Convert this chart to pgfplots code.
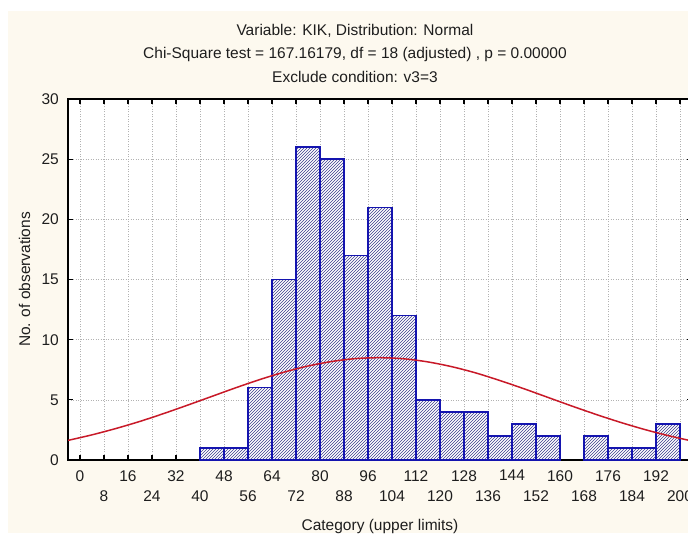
\documentclass[border=0pt]{standalone}
\usepackage{fontspec}
\setmainfont{Liberation Sans}
\usepackage{pgfplots}
\pgfplotsset{compat=1.18}
\usetikzlibrary{patterns}

\definecolor{panel}{RGB}{253,249,239}
\definecolor{barblue}{RGB}{20,20,175}
\definecolor{hatch}{RGB}{60,60,140}
\definecolor{fitred}{RGB}{200,25,40}
\definecolor{txt}{RGB}{30,30,30}

% grid behind the bars, ticks and frame in front of them
\pgfplotsset{
  layers/histo/.define layer set={axis background,axis grid,main,axis ticks,axis lines,axis tick labels,axis descriptions,axis foreground}{},
}

\begin{document}
\begin{tikzpicture}[x=1pt,y=1pt,font=\fontsize{15.5}{18}\selectfont]
\fill[white] (0,0) rectangle (688,533);
\fill[panel] (8,0) rectangle (688,522);

\node[anchor=base, text=txt] at (355,497) {Variable: KIK, Distribution: Normal};
\node[anchor=base, text=txt] at (355,474) {Chi-Square test = 167.16179, df = 18 (adjusted) , p = 0.00000};
\node[anchor=base, text=txt] at (355,450) {Exclude condition: v3=3};

\begin{axis}[
  set layers=histo,
  scale only axis, width=624pt, height=361pt,
  at={(68pt,73pt)}, anchor=south west,
  xmin=-4, xmax=204, ymin=0, ymax=30,
  axis background/.style={fill=white},
  xtick={0,16,...,192},
  extra x ticks={8,24,...,200},
  extra x tick style={xticklabel style={yshift=-20pt}},
  ytick={0,5,...,30},
  grid=major,
  major grid style={gray!60, line width=0.5pt, dash pattern=on 1pt off 1.5pt},
  tick align=inside,
  major tick length=5pt,
  tick style={black, line width=1.3pt},
  axis line style={black, line width=1.6pt},
  /pgf/number format/assume math mode=true,
  xticklabel style={anchor=north, inner sep=0pt, yshift=-10pt, text=txt},
  yticklabel style={anchor=east, inner sep=0pt, xshift=-9pt, text=txt},
  xlabel={Category (upper limits)},
  ylabel={No. of observations},
  xlabel style={at={(axis description cs:0.5,-0.1965)}, anchor=base, text=txt},
  ylabel style={at={(axis description cs:-0.0609,0.5)}, anchor=base, text=txt},
]

% observed frequencies, class intervals of width 8 (upper limits on the axis)
\addplot[ybar interval, draw=barblue, line width=1.4pt, fill=white,
  postaction={pattern=north east lines, pattern color=hatch}]
  coordinates {(40,1) (48,1) (56,6) (64,15) (72,26) (80,25) (88,17) (96,21)
               (104,12) (112,5) (120,4) (128,4) (136,2) (144,3) (152,2) (160,0)};
\addplot[ybar interval, draw=barblue, line width=1.4pt, fill=white,
  postaction={pattern=north east lines, pattern color=hatch}]
  coordinates {(168,2) (176,1) (184,1) (192,3) (200,0)};

% expected normal frequencies
\addplot[fitred, line width=1.5pt, smooth, no markers] coordinates {
  (-4,1.63) (4,2.09) (12,2.62) (20,3.21) (28,3.87) (36,4.57) (44,5.29)
  (52,6.01) (60,6.69) (68,7.30) (76,7.81) (84,8.19) (92,8.43) (100,8.50)
  (108,8.41) (116,8.15) (124,7.75) (132,7.23) (140,6.60) (148,5.92)
  (156,5.20) (164,4.48) (172,3.79) (180,3.14) (188,2.55) (196,2.03) (204,1.58)};
\end{axis}

% the page is the panel; whatever lies beyond it is cut off
\pgfresetboundingbox
\useasboundingbox (0,0) rectangle (688,533);
\end{tikzpicture}
\end{document}
